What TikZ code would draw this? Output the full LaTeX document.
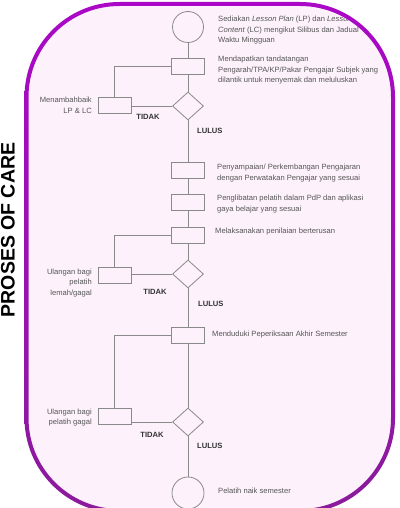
\documentclass[tikz,border=0pt]{standalone}
\usepackage{fontspec}
\setmainfont{Liberation Sans}
\usetikzlibrary{shapes.geometric}
\definecolor{bordtop}{HTML}{AA08C6}
\definecolor{bordbot}{HTML}{8A1B9B}
\definecolor{bgfill}{HTML}{FDF2FC}
\definecolor{ln}{HTML}{8A8A8A}
\definecolor{txt}{HTML}{555555}
\definecolor{lbltxt}{HTML}{333333}
\begin{document}
\begin{tikzpicture}[x=1pt,y=-1pt,
 txtnode/.style={font=\fontsize{7.6}{10.5}\selectfont, text=txt, inner sep=0pt, align=left, anchor=west},
 rtxt/.style={font=\fontsize{7.6}{10.5}\selectfont, text=txt, inner sep=0pt, align=right, anchor=east},
 lbl/.style={font=\fontsize{7.6}{10.5}\selectfont\bfseries, text=lbltxt, inner sep=0pt},
 stepbox/.style={draw=ln, line width=0.8pt, minimum width=33pt, minimum height=16pt, inner sep=0pt},
 dec/.style={draw=ln, line width=0.8pt, diamond, minimum width=31pt, minimum height=28pt, inner sep=0pt},
 term/.style={draw=ln, line width=0.8pt, circle, minimum size=31pt, inner sep=0pt},
 conn/.style={draw=ln, line width=0.8pt}]
\useasboundingbox (0,0) rectangle (399,508);
\path[fill=bgfill, rounded corners=93pt] (26.5,4) rectangle (393,511);

\node[rotate=90, anchor=base, font=\fontsize{19.5}{20}\selectfont\bfseries, text=black, inner sep=0pt] (title) at (14.5,230) {PROSES OF CARE};

% main column
\node[term] (c1) at (188,27) {};
\node[stepbox] (b1) at (188,66) {};
\node[dec] (d1) at (188,106) {};
\node[stepbox] (b3) at (188,170) {};
\node[stepbox] (b4) at (188,202.5) {};
\node[stepbox] (b5) at (188,235) {};
\node[dec] (d2) at (188,274) {};
\node[stepbox] (b6) at (188,335) {};
\node[dec] (d3) at (188,422) {};
\node[term, minimum size=32pt] (c2) at (188,493) {};

% left boxes
\node[stepbox] (l1) at (114.5,105) {};
\node[stepbox] (l2) at (114.5,275) {};
\node[stepbox] (l3) at (114.5,416) {};

% connectors
\draw[conn] (c1) -- (b1);
\draw[conn] (b1) -- (d1);
\draw[conn] (d1) -- (b3);
\draw[conn] (b3) -- (b4);
\draw[conn] (b4) -- (b5);
\draw[conn] (b5) -- (d2);
\draw[conn] (d2) -- (b6);
\draw[conn] (b6) -- (d3);
\draw[conn] (d3) -- (c2);
\draw[conn] (b1.west) -| (l1.north);
\draw[conn] (d1.west) -- (d1.west -| l1.east);
\draw[conn] (b5.west) -| (l2.north);
\draw[conn] (d2.west) -- (d2.west -| l2.east);
\draw[conn] (b6.west) -| (l3.north);
\draw[conn] (d3.west) -- (d3.west -| l3.east);

% texts
\begin{scope}
\clip[rounded corners=91pt] (28.5,6) rectangle (391,509);
\node[txtnode] (t1) at (218,30.5) {Sediakan \textit{Lesson Plan} (LP) dan \textit{Lesson}\\\textit{Content} (LC) mengikut Silibus dan Jadual\\Waktu Mingguan};
\end{scope}
\node[txtnode] (t2) at (218,70.5) {Mendapatkan tandatangan\\Pengarah/TPA/KP/Pakar Pengajar Subjek yang\\dilantik untuk menyemak dan meluluskan};
\node[txtnode] (t3) at (217,173) {Penyampaian/ Perkembangan Pengajaran\\dengan Perwatakan Pengajar yang sesuai};
\node[txtnode] (t4) at (217,204) {Penglibatan pelatih dalam PdP dan aplikasi\\gaya belajar yang sesuai};
\node[txtnode] (t5) at (215,232) {Melaksanakan penilaian berterusan};
\node[txtnode] (t6) at (212,335) {Menduduki Peperiksaan Akhir Semester};
\node[txtnode] (t7) at (218,491) {Pelatih naik semester};

\node[rtxt] (m1) at (92,105.5) {Menambahbaik\\LP \& LC};
\node[rtxt] (m2) at (92,283) {Ulangan bagi\\pelatih\\lemah/gagal};
\node[rtxt] (m3) at (92,417.5) {Ulangan bagi\\pelatih gagal};

\node[lbl] (n1) at (148,117) {TIDAK};
\node[lbl, anchor=west] (y1) at (197,131) {LULUS};
\node[lbl] (n2) at (155,292) {TIDAK};
\node[lbl, anchor=west] (y2) at (198,304) {LULUS};
\node[lbl] (n3) at (152,435) {TIDAK};
\node[lbl, anchor=west] (y3) at (197,446) {LULUS};

% border ring with vertical gradient
\path[even odd rule, top color=bordtop, bottom color=bordbot]
  [rounded corners=95pt] (24.5,2) rectangle (395,513)
  [rounded corners=91pt] (28.5,6) rectangle (391,509);
\end{tikzpicture}
\end{document}
